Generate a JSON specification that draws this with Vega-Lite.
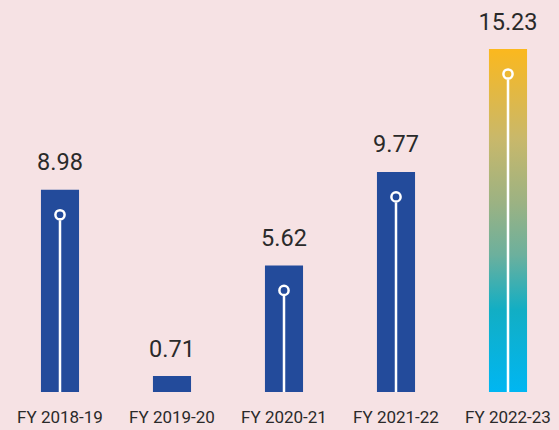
{
  "$schema": "https://vega.github.io/schema/vega-lite/v6.json",
  "width": 559,
  "height": 343,
  "autosize": {"type": "none"},
  "padding": {"left": 0, "top": 49, "right": 0, "bottom": 38},
  "background": "#f6e2e4",
  "config": {"view": {"stroke": null}, "font": "Roboto"},
  "data": {
    "values": [
      {"year": "FY 2018-19", "value": 8.98, "label": "8.98", "hl": "no"},
      {"year": "FY 2019-20", "value": 0.71, "label": "0.71", "hl": "no"},
      {"year": "FY 2020-21", "value": 5.62, "label": "5.62", "hl": "no"},
      {"year": "FY 2021-22", "value": 9.77, "label": "9.77", "hl": "no"},
      {"year": "FY 2022-23", "value": 15.23, "label": "15.23", "hl": "yes"}
    ]
  },
  "encoding": {
    "x": {
      "field": "year",
      "type": "nominal",
      "sort": null,
      "scale": {"paddingInner": 0.66, "paddingOuter": 0.3255, "align": 0.5617},
      "axis": {
        "title": null,
        "domain": false,
        "ticks": false,
        "labelAngle": 0,
        "labelFont": "Roboto",
        "labelFontSize": 17,
        "labelColor": "#2a2a2a",
        "labelPadding": 17
      }
    },
    "y": {
      "field": "value",
      "type": "quantitative",
      "scale": {"domain": [0, 15.23], "nice": false, "zero": true},
      "axis": null
    }
  },
  "layer": [
    {
      "transform": [{"filter": "datum.hl === 'no'"}],
      "mark": {"type": "bar", "color": "#234b9b"}
    },
    {
      "transform": [{"filter": "datum.hl === 'yes'"}],
      "mark": {
        "type": "bar",
        "fill": {
          "gradient": "linear",
          "x1": 0, "y1": 0, "x2": 0, "y2": 1,
          "stops": [
            {"offset": 0, "color": "#fbb81e"},
            {"offset": 0.26, "color": "#c9b86a"},
            {"offset": 0.45, "color": "#9bb283"},
            {"offset": 0.6, "color": "#6cb09d"},
            {"offset": 0.76, "color": "#12aec4"},
            {"offset": 1, "color": "#00b6f2"}
          ]
        }
      }
    },
    {
      "transform": [{"filter": "datum.value > 1"}],
      "mark": {"type": "rule", "color": "white", "strokeWidth": 2.5, "yOffset": 30.5, "y2Offset": 0},
      "encoding": {"y2": {"datum": 0}}
    },
    {
      "transform": [{"filter": "datum.value > 1"}],
      "mark": {"type": "point", "shape": "circle", "filled": false, "stroke": "white", "strokeWidth": 2.5, "size": 85, "opacity": 1, "yOffset": 25}
    },
    {
      "mark": {"type": "text", "baseline": "alphabetic", "dy": -19.5, "font": "Roboto", "fontSize": 23.5, "color": "#2a2a2a"},
      "encoding": {"text": {"field": "label"}}
    }
  ]
}
